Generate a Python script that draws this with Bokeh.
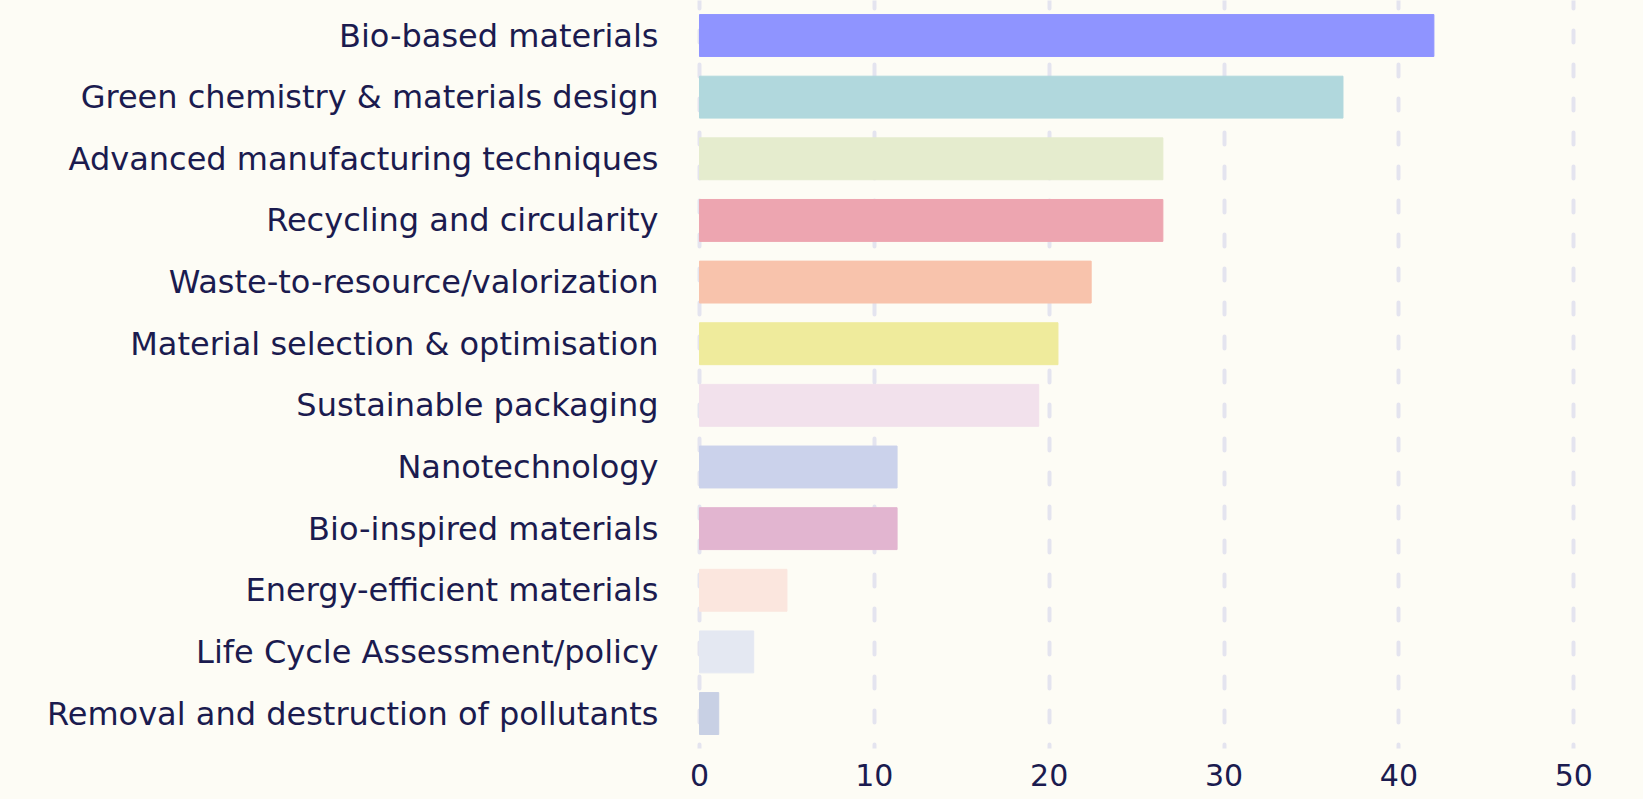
from bokeh.plotting import figure
from bokeh.models import Range1d, ColumnDataSource, FixedTicker
from bokeh.embed import file_html
from bokeh.resources import INLINE

categories = [
    "Bio-based materials",
    "Green chemistry & materials design",
    "Advanced manufacturing techniques",
    "Recycling and circularity",
    "Waste-to-resource/valorization",
    "Material selection & optimisation",
    "Sustainable packaging",
    "Nanotechnology",
    "Bio-inspired materials",
    "Energy-efficient materials",
    "Life Cycle Assessment/policy",
    "Removal and destruction of pollutants",
]
values = [42.0, 36.8, 26.5, 26.5, 22.4, 20.5, 19.4, 11.3, 11.3, 5.0, 3.1, 1.1]
colors = ["#8f94ff", "#b1d8dd", "#e5ecce", "#eda5b0", "#f8c3ac", "#efeb9c",
          "#f2e1ec", "#cbd2eb", "#e2b5d0", "#fbe6de", "#e4e8f2", "#c8d0e4"]
x_ticks = [0, 10, 20, 30, 40, 50]

BG = "#fdfcf5"
TXT = "#1b1b4f"
FONT = "DejaVu Sans"

pos = list(range(len(categories)))
src = ColumnDataSource(dict(y=pos, v=values, c=colors))

p = figure(width=1643, height=799, output_backend="svg", toolbar_location=None,
           x_range=Range1d(-0.4, 52.5), y_range=Range1d(11.567, -0.568),
           min_border_left=692, min_border_right=26, min_border_top=0,
           min_border_bottom=51, background_fill_color=BG,
           border_fill_color=BG, outline_line_color=None)

p.hbar(y="y", left=0, right="v", height=0.68, color="c", source=src)

p.xaxis.ticker = FixedTicker(ticks=x_ticks)
p.yaxis.ticker = FixedTicker(ticks=pos)
p.yaxis.major_label_overrides = {i: c for i, c in enumerate(categories)}

for ax in (p.xaxis[0], p.yaxis[0]):
    ax.axis_line_color = None
    ax.major_tick_line_color = None
    ax.minor_tick_line_color = None
    ax.major_tick_out = 0
    ax.major_tick_in = 0
    ax.major_label_text_font = FONT
    ax.major_label_text_color = TXT

p.yaxis.major_label_text_font_size = "32px"
p.xaxis.major_label_text_font_size = "30px"
p.xaxis.major_label_standoff = 15
p.yaxis.major_label_standoff = 34

p.ygrid.grid_line_color = None
p.xgrid.grid_line_color = "#e4e4ef"
p.xgrid.grid_line_width = 4
p.xgrid.grid_line_dash = "12 22"
p.xgrid.grid_line_dash_offset = 4
p.xgrid.grid_line_cap = "round"

html = file_html(p, INLINE)
html = html.replace("<head>", "<head><style>html,body{background:%s;}</style>" % BG, 1)
open("out.html", "w").write(html)
